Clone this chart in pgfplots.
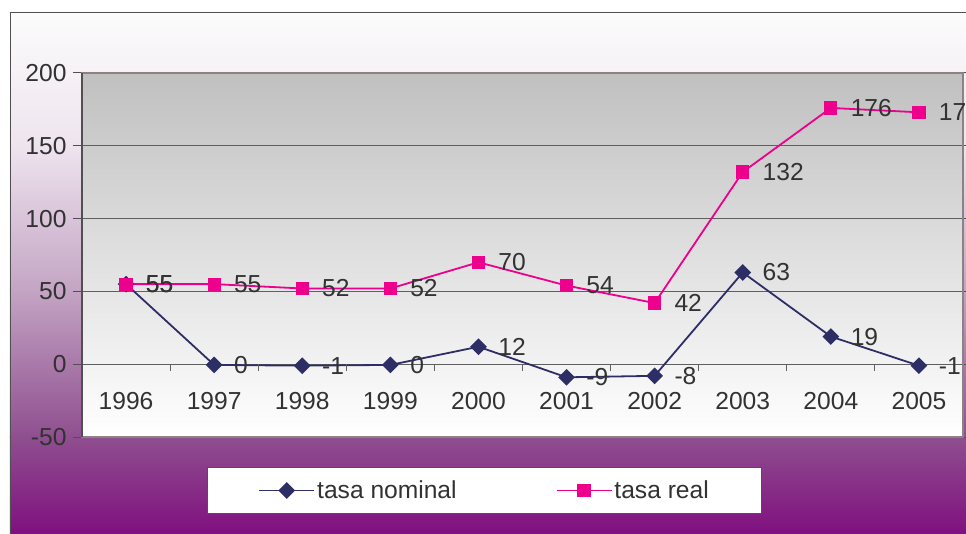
\documentclass[border=0pt]{standalone}
\usepackage{fontspec}
\setmainfont{Liberation Sans}
\usepackage{pgfplots}
\usepackage{pgfplotstable}
\usetikzlibrary{backgrounds}
\pgfplotsset{compat=1.18}
\definecolor{nom}{RGB}{46,46,102}
\definecolor{realc}{RGB}{236,0,140}
\definecolor{txt}{RGB}{50,50,50}
\definecolor{bgA}{RGB}{128,16,128}
\definecolor{bgB}{RGB}{143,79,143}
\definecolor{bgC}{RGB}{196,165,196}
\definecolor{bgD}{RGB}{238,228,238}
\definecolor{bgE}{RGB}{252,252,252}
\definecolor{plottop}{RGB}{192,192,192}
\definecolor{gridc}{RGB}{95,95,95}
\definecolor{boxc}{RGB}{140,130,130}
\definecolor{axc}{RGB}{80,80,80}
\newcommand\bigf{\fontsize{24.6pt}{29pt}\selectfont}

\pgfplotstableread{
x y lab
0 55 55
1 -0.5 0
2 -1 -1
3 -0.5 0
4 12 12
5 -9 -9
6 -8 -8
7 63 63
8 19 19
9 -1 -1
}\nominal

\pgfplotstableread{
x y lab
0 55 55
1 55 55
2 52 52
3 52 52
4 70 70
5 54 54
6 42 42
7 132 132
8 176 176
9 173 173
}\realt

\begin{document}
\begin{tikzpicture}[x=1pt,y=1pt]
\begin{axis}[
  scale only axis, width=881pt, height=364pt,
  xmin=-0.5, xmax=9.5, ymin=-50, ymax=200,
  clip=false,
  axis background/.style={top color=plottop, bottom color=white},
  axis line style={draw=boxc, line width=1.5pt},
  xtick={0,...,9},
  xticklabels={1996,1997,1998,1999,2000,2001,2002,2003,2004,2005},
  xtick style={draw=none},
  xticklabel style={font=\bigf, text=txt, anchor=center, inner sep=0pt, yshift=45pt},
  ytick={-50,0,50,100,150,200},
  yticklabels={-50,0,50,100,150,200},
  ytick style={draw=axc, line width=1pt},
  tick align=outside,
  major tick length=9pt,
  yticklabel style={font=\bigf, text=txt, xshift=-3pt},
  ymajorgrids,
  grid style={draw=gridc, line width=1pt},
  nodes near coords,
  point meta=explicit symbolic,
  every node near coord/.append style={anchor=west, font=\bigf, text=txt, inner sep=0pt, xshift=19pt},
  legend columns=2,
  legend image code/.code={\draw[mark repeat=2,mark phase=2,#1] plot coordinates {(0pt,0pt) (27.5pt,0pt) (55pt,0pt)};},
  legend style={at={(0.457,-0.147)}, anchor=center, draw=axc, line width=1pt, fill=white,
    font=\bigf, text=txt, inner xsep=50.5pt, inner ysep=11.5pt,
    /tikz/every even column/.append style={column sep=97pt}},
]
\addplot[color=nom, line width=1.8pt, mark=square*, mark size=5pt, mark options={rotate=45, solid, fill=nom}] table[x=x, y=y, meta=lab] {\nominal};
\addlegendentry{tasa nominal}
\addplot[color=realc, line width=1.8pt, mark=square*, mark size=5.7pt, mark options={solid, fill=realc}] table[x=x, y=y, meta=lab] {\realt};
\addlegendentry{tasa real}
\draw[line width=1pt, draw=gridc] (axis cs:0.5,0) -- ([yshift=-7pt]axis cs:0.5,0);
\draw[line width=1pt, draw=gridc] (axis cs:1.5,0) -- ([yshift=-7pt]axis cs:1.5,0);
\draw[line width=1pt, draw=gridc] (axis cs:2.5,0) -- ([yshift=-7pt]axis cs:2.5,0);
\draw[line width=1pt, draw=gridc] (axis cs:3.5,0) -- ([yshift=-7pt]axis cs:3.5,0);
\draw[line width=1pt, draw=gridc] (axis cs:4.5,0) -- ([yshift=-7pt]axis cs:4.5,0);
\draw[line width=1pt, draw=gridc] (axis cs:5.5,0) -- ([yshift=-7pt]axis cs:5.5,0);
\draw[line width=1pt, draw=gridc] (axis cs:6.5,0) -- ([yshift=-7pt]axis cs:6.5,0);
\draw[line width=1pt, draw=gridc] (axis cs:7.5,0) -- ([yshift=-7pt]axis cs:7.5,0);
\draw[line width=1pt, draw=gridc] (axis cs:8.5,0) -- ([yshift=-7pt]axis cs:8.5,0);
\draw[line width=2pt, draw=axc] (rel axis cs:0,0) -- (rel axis cs:0,1);
\coordinate (O) at (rel axis cs:0,0);
\end{axis}
\begin{scope}[on background layer]
\fill[white] ([shift={(-82,-96)}]O) rectangle ([shift={(884,437)}]O);
\shade[bottom color=bgA, top color=bgB] ([shift={(-72,-96)}]O) rectangle ([shift={(884,0.5)}]O);
\shade[bottom color=bgB, top color=bgC] ([shift={(-72,0)}]O) rectangle ([shift={(884,147.5)}]O);
\shade[bottom color=bgC, top color=bgD] ([shift={(-72,147)}]O) rectangle ([shift={(884,291.5)}]O);
\shade[bottom color=bgD, top color=bgE] ([shift={(-72,291)}]O) rectangle ([shift={(884,425)}]O);
\draw[line width=1pt, draw=axc] ([shift={(-71.5,-100)}]O) -- ([shift={(-71.5,424.5)}]O) -- ([shift={(890,424.5)}]O);
\end{scope}
\pgfresetboundingbox
\path[use as bounding box] ([shift={(-82,-96)}]O) rectangle ([shift={(884,437)}]O);
\end{tikzpicture}
\end{document}
